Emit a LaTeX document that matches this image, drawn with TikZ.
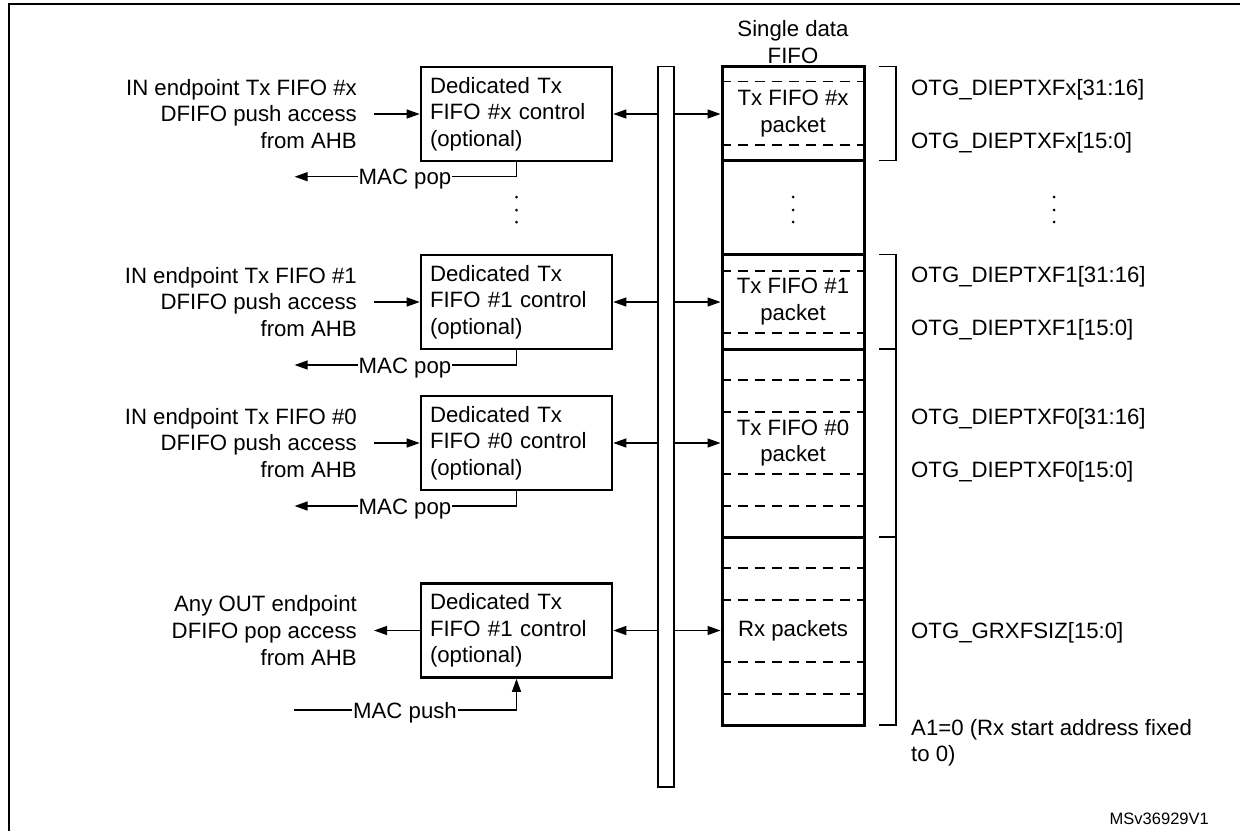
\documentclass[tikz,border=0pt]{standalone}
\usepackage{fontspec}
\setmainfont{Liberation Sans}
\usetikzlibrary{arrows.meta}
\begin{document}
\begin{tikzpicture}[x=1pt,y=-1pt,
  txt/.style={font=\fontsize{22.2}{26.7}\selectfont, inner sep=0pt},
  ctrlbox/.style={txt, draw, line width=2.6pt, minimum width=191pt, minimum height=94pt, text width=173pt, inner xsep=8pt, align=left},
  lab/.style={txt, align=right, anchor=east, inner xsep=17pt},
  sec/.style={txt, draw, line width=3pt, minimum width=142pt, align=center},
  mac/.style={txt, text height=16pt, text depth=0pt, inner xsep=1pt},
  rlab/.style={txt, anchor=west, text height=16pt, text depth=0pt},
  conn/.style={line width=1.3pt},
  arr/.style={-{Triangle[length=13pt,width=9pt]}},
  dashline/.style={line width=1.3pt, dash pattern=on 10pt off 7pt},
  brk/.style={line width=1.3pt},
  dot/.style={fill=black}
]
\useasboundingbox (0,0) rectangle (1240,831);
% frame
\draw[line width=2.2pt] (9,831) -- (9,4) -- (1240,4);

% control boxes
\node[ctrlbox] (bx) at (516.5,114) {Dedicated Tx\\FIFO \#x control\\(optional)};
\node[ctrlbox] (b1) at (516.5,302) {Dedicated Tx\\FIFO \#1 control\\(optional)};
\node[ctrlbox] (b0) at (516.5,443) {Dedicated Tx\\FIFO \#0 control\\(optional)};
\node[ctrlbox] (b3) at (516.5,630.5) {Dedicated Tx\\FIFO \#1 control\\(optional)};

% left labels
\node[lab] (lx) at (374,114) {IN endpoint Tx FIFO \#x\\DFIFO push access\\from AHB};
\node[lab] (l1) at (374,302) {IN endpoint Tx FIFO \#1\\DFIFO push access\\from AHB};
\node[lab] (l0) at (374,443) {IN endpoint Tx FIFO \#0\\DFIFO push access\\from AHB};
\node[lab] (l3) at (374,630.5) {Any OUT endpoint\\DFIFO pop access\\from AHB};

\draw[conn,arr] (lx.east) -- (bx.west);
\draw[conn,arr] (l1.east) -- (b1.west);
\draw[conn,arr] (l0.east) -- (b0.west);
\draw[conn,arr] (b3.west) -- (l3.east);

% MAC pop / push
\node[mac] (popx) at (405,176.7) {MAC pop};
\node[mac] (pop1) at (405,365) {MAC pop};
\node[mac] (pop0) at (405,506) {MAC pop};
\node[mac] (push) at (405,710) {MAC push};
\coordinate (popxend) at (294.6,176.7);
\coordinate (pop1end) at (294.6,365);
\coordinate (pop0end) at (294.6,506);
\coordinate (pushstart) at (294,710);
\draw[conn] (bx.south) |- (popx.east);
\draw[conn,arr] (popx.west) -- (popxend);
\draw[conn] (b1.south) |- (pop1.east);
\draw[conn,arr] (pop1.west) -- (pop1end);
\draw[conn] (b0.south) |- (pop0.east);
\draw[conn,arr] (pop0.west) -- (pop0end);
\draw[conn] (pushstart) -- (push.west);
\draw[conn,arr] (push.east) -| (b3.south);

% bus
\node[draw, line width=1.4pt, minimum width=16pt, minimum height=720.3pt, inner sep=0pt] (bus) at (666,426.85) {};

% FIFO
\node[txt, align=center] (title) at (793,42) {Single data\\FIFO};
\node[sec, minimum height=94pt] (sx) at (793,113.7) {Tx FIFO \#x\\packet};
\node[sec, minimum height=93.8pt] (sd) at (793,207.6) {};
\node[sec, minimum height=94.5pt] (s1) at (793,301.75) {Tx FIFO \#1\\packet};
\node[sec, minimum height=188pt] (s0) at (793,443) {Tx FIFO \#0\\packet};
\node[sec, minimum height=188pt] (srx) at (793,631) {Rx packets};

\draw[dashline] (sx.west |- 0,81.7) -- (sx.east |- 0,81.7);
\draw[dashline] (sx.west |- 0,145) -- (sx.east |- 0,145);
\draw[dashline] (s1.west |- 0,271) -- (s1.east |- 0,271);
\draw[dashline] (s1.west |- 0,333) -- (s1.east |- 0,333);
\foreach \yy in {380,412,474,506,568,600,662,694}
  \draw[dashline] (s0.west |- 0,\yy) -- (s0.east |- 0,\yy);

% bus connectors
\draw[conn,arr] (bus.west |- bx.east) -- (bx.east);
\draw[conn,arr] (bus.west |- b1.east) -- (b1.east);
\draw[conn,arr] (bus.west |- b0.east) -- (b0.east);
\draw[conn,arr] (bus.west |- b3.east) -- (b3.east);
\draw[conn,arr] (bus.east |- bx.east) -- (sx.west |- bx.east);
\draw[conn,arr] (bus.east |- b1.east) -- (s1.west |- b1.east);
\draw[conn,arr] (bus.east |- b0.east) -- (s0.west |- b0.east);
\draw[conn,arr] (bus.east |- b3.east) -- (srx.west |- b3.east);

% brackets
\draw[brk] (879,66.7) -- (896,66.7) -- (896,160.7) -- (879,160.7);
\draw[brk] (879,254.5) -- (896,254.5) -- (896,725) -- (879,725);
\draw[brk] (879,349) -- (896,349);
\draw[brk] (879,537) -- (896,537);

% dots
\foreach \xx in {516.5,793,1054}
  \foreach \yy in {197,210,222}
    \fill[dot] (\xx,\yy) circle (1.5pt);

% right labels
\node[rlab] (rx1) at (911,87) {OTG\_DIEPTXFx[31:16]};
\node[rlab] (rx2) at (911,140) {OTG\_DIEPTXFx[15:0]};
\node[rlab] (r11) at (911,274) {OTG\_DIEPTXF1[31:16]};
\node[rlab] (r12) at (911,327) {OTG\_DIEPTXF1[15:0]};
\node[rlab] (r01) at (911,416) {OTG\_DIEPTXF0[31:16]};
\node[rlab] (r02) at (911,469) {OTG\_DIEPTXF0[15:0]};
\node[rlab] (rrx) at (911,630) {OTG\_GRXFSIZ[15:0]};
\node[txt, anchor=north west, align=left] (ra1) at (911,719) {A1=0 (Rx start address fixed\\to 0)};

\node[font=\fontsize{16.5}{20}\selectfont, anchor=east, text height=12pt, text depth=0pt, inner sep=0pt] (ms) at (1209,818) {MSv36929V1};
\end{tikzpicture}
\end{document}
